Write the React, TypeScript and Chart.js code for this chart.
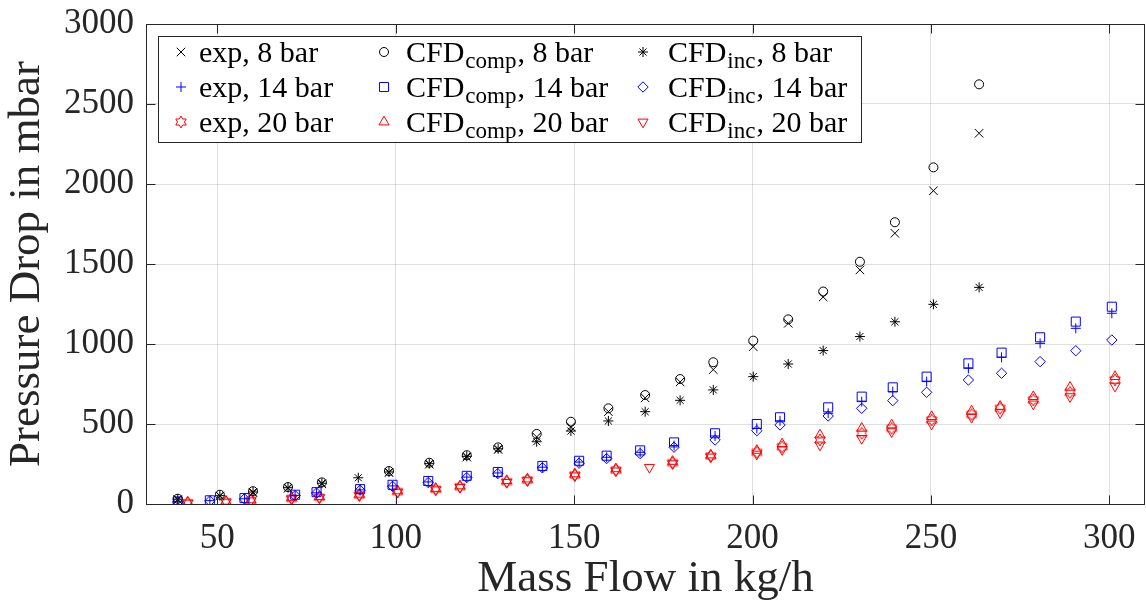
import React, { useEffect, useRef } from 'react';
import { Chart, registerables, ScatterController } from 'chart.js';
import { drawPoint } from 'chart.js/helpers';

Chart.register(...registerables);
// markers may overflow the plot edge as in the original; do not reserve extra layout space for them
(ScatterController.prototype as any).getMaxOverflow = function () {
  return 0;
};

// ---- axes ----
const xTicks = [50, 100, 150, 200, 250, 300];
const yTicks = [0, 500, 1000, 1500, 2000, 2500, 3000];
const xLimits = [30, 310];
const yLimits = [0, 3000];

// ---- 8 bar ----
const flow8 = [38.9, 50.7, 60.0, 69.8, 79.3, 98.1, 109.4, 119.9, 128.7, 139.5, 149.1, 159.6, 169.9, 179.7, 189.0, 200.2, 210.0, 219.8, 230.1, 239.9, 250.7, 263.5];
const exp8 = [27, 50, 70, 98, 126, 196, 248, 293, 340, 419, 483, 577, 663, 763, 840, 983, 1129, 1294, 1463, 1692, 1958, 2317];
const comp8 = [33, 58, 80, 106, 135, 206, 258, 305, 354, 438, 514, 598, 681, 781, 886, 1021, 1154, 1328, 1514, 1761, 2104, 2623];
const flowInc8 = [38.9, 50.7, 60.0, 69.8, 79.3, 89.5, 98.1, 109.4, 119.9, 128.7, 139.5, 149.1, 159.6, 169.9, 179.7, 189.0, 200.2, 210.0, 219.8, 230.1, 239.9, 250.7, 263.5];
const inc8 = [30, 52, 75, 102, 130, 164, 200, 252, 298, 345, 389, 456, 519, 577, 648, 713, 796, 875, 959, 1047, 1139, 1248, 1354];

// ---- 14 bar ----
const flow14 = [38.9, 47.9, 57.6, 71.8, 77.8, 90.0, 99.1, 109.1, 119.9, 128.6, 141.1, 151.4, 159.1, 168.5, 178.0, 189.5, 201.2, 207.7, 221.2, 230.6, 239.3, 248.8, 260.5, 269.8, 280.6, 290.6, 300.7];
const exp14 = [14, 21, 33, 54, 70, 88, 113, 138, 168, 194, 230, 262, 292, 323, 365, 425, 473, 520, 567, 640, 702, 765, 848, 917, 1004, 1098, 1192];
const comp14 = [16, 23, 37, 58, 74, 93, 120, 144, 176, 200, 238, 270, 302, 335, 385, 442, 500, 542, 604, 671, 729, 796, 879, 946, 1042, 1140, 1233];
const inc14 = [12, 19, 32, 52, 68, 86, 110, 134, 165, 190, 226, 255, 284, 315, 355, 400, 458, 494, 550, 598, 646, 698, 775, 817, 890, 958, 1025];

// ---- 20 bar ----
const flow20 = [41.7, 52.4, 59.4, 70.8, 78.6, 89.8, 100.5, 111.2, 118.0, 131.1, 136.9, 150.2, 161.7, 177.6, 188.3, 201.2, 208.3, 218.9, 230.6, 239.0, 250.2, 261.4, 269.4, 278.7, 289.0, 301.6];
const exp20 = [8, 14, 22, 35, 42, 56, 77, 92, 108, 140, 150, 181, 212, 258, 300, 323, 358, 400, 442, 473, 525, 560, 598, 650, 698, 775];
const comp20 = [11, 17, 26, 39, 46, 61, 82, 97, 113, 146, 156, 188, 220, 266, 306, 335, 375, 431, 473, 494, 546, 581, 610, 671, 729, 796];
const flowInc20 = [41.7, 52.4, 59.4, 70.8, 78.6, 89.8, 100.5, 111.2, 118.0, 131.1, 136.9, 150.2, 161.7, 171.1, 177.6, 188.3, 201.2, 208.3, 218.9, 230.6, 239.0, 250.2, 261.4, 269.4, 278.7, 289.0, 301.6];
const inc20 = [6, 12, 20, 32, 39, 52, 74, 89, 104, 135, 146, 176, 207, 229, 252, 294, 312, 340, 369, 410, 452, 500, 542, 571, 625, 671, 737];

const FONT = '"Liberation Serif", "Times New Roman", serif';
const AXIS = '#262626';
const GRID = 'rgba(38,38,38,0.15)';
const BLACK = '#000000';
const BLUE = '#0000ff';
const RED = '#ff0000';

function hexagram(color: string, r: number): HTMLCanvasElement {
  const size = Math.ceil(r * 2 + 4);
  const c = document.createElement('canvas');
  c.width = size;
  c.height = size;
  const g = c.getContext('2d')!;
  g.strokeStyle = color;
  g.lineWidth = 1;
  const cx = size / 2;
  const cy = size / 2;
  const ri = r / Math.sqrt(3);
  g.beginPath();
  for (let k = 0; k < 12; k++) {
    const a = -Math.PI / 2 + (k * Math.PI) / 6;
    const rr = k % 2 === 0 ? r : ri;
    const px = cx + rr * Math.cos(a);
    const py = cy + rr * Math.sin(a);
    if (k === 0) g.moveTo(px, py);
    else g.lineTo(px, py);
  }
  g.closePath();
  g.stroke();
  return c;
}

type Entry = { main: string; sub?: string; tail: string };

export default function App() {
  const ref = useRef<HTMLCanvasElement>(null);

  useEffect(() => {
    document.body.style.margin = '0';
    const hexRed = hexagram(RED, 6);

    const series = [
      { name: { main: 'exp, 8 bar', tail: '' }, xs: flow8, ys: exp8, color: BLACK, style: 'crossRot', r: 6, rot: 0 },
      { name: { main: 'exp, 14 bar', tail: '' }, xs: flow14, ys: exp14, color: BLUE, style: 'cross', r: 5, rot: 0 },
      { name: { main: 'exp, 20 bar', tail: '' }, xs: flow20, ys: exp20, color: RED, style: hexRed as any, r: 6, rot: 0 },
      { name: { main: 'CFD', sub: 'comp', tail: ', 8 bar' }, xs: flow8, ys: comp8, color: BLACK, style: 'circle', r: 4.5, rot: 0 },
      { name: { main: 'CFD', sub: 'comp', tail: ', 14 bar' }, xs: flow14, ys: comp14, color: BLUE, style: 'rect', r: 6.4, rot: 0 },
      { name: { main: 'CFD', sub: 'comp', tail: ', 20 bar' }, xs: flow20, ys: comp20, color: RED, style: 'triangle', r: 5.8, rot: 0 },
      { name: { main: 'CFD', sub: 'inc', tail: ', 8 bar' }, xs: flowInc8, ys: inc8, color: BLACK, style: 'star', r: 5, rot: 0 },
      { name: { main: 'CFD', sub: 'inc', tail: ', 14 bar' }, xs: flow14, ys: inc14, color: BLUE, style: 'rectRot', r: 5.2, rot: 0 },
      { name: { main: 'CFD', sub: 'inc', tail: ', 20 bar' }, xs: flowInc20, ys: inc20, color: RED, style: 'triangle', r: 5.8, rot: 180 },
    ];

    const datasets = series.map((s) => ({
      label: s.name.main + (s.name.sub || '') + s.name.tail,
      data: s.xs.map((x, i) => ({ x, y: s.ys[i] })),
      pointStyle: s.style,
      pointRadius: s.r,
      pointRotation: s.rot,
      pointBorderWidth: 1,
      borderColor: s.color,
      backgroundColor: 'rgba(0,0,0,0)',
      showLine: false,
    }));

    const legendCols = [
      { mx: 181, tx: 199 },
      { mx: 384, tx: 406 },
      { mx: 643, tx: 668 },
    ];
    const legendRows = [52, 87, 122];

    const framePlugin = {
      id: 'frame',
      afterDraw(chart: any) {
        const { ctx, chartArea: a, scales } = chart;
        ctx.save();
        // axes box
        ctx.strokeStyle = AXIS;
        ctx.lineWidth = 1;
        const L = Math.round(a.left) + 0.5;
        const T = Math.round(a.top) + 0.5;
        const R = Math.round(a.right) - 0.5;
        const B = Math.round(a.bottom) + 0.5;
        ctx.strokeRect(L, T, R - L, B - T);
        // inner ticks
        const tl = 9;
        ctx.beginPath();
        xTicks.forEach((v) => {
          const px = Math.round(scales.x.getPixelForValue(v)) + 0.5;
          ctx.moveTo(px, B);
          ctx.lineTo(px, B - tl);
          ctx.moveTo(px, T);
          ctx.lineTo(px, T + tl);
        });
        yTicks.forEach((v) => {
          const py = Math.round(scales.y.getPixelForValue(v)) + 0.5;
          ctx.moveTo(L, py);
          ctx.lineTo(L + tl, py);
          ctx.moveTo(R, py);
          ctx.lineTo(R - tl, py);
        });
        ctx.stroke();

        // legend
        ctx.fillStyle = '#ffffff';
        ctx.fillRect(158, 36, 704, 106);
        ctx.strokeStyle = AXIS;
        ctx.strokeRect(158.5, 36.5, 703, 106);
        series.forEach((s, i) => {
          const col = legendCols[Math.floor(i / 3)];
          const ry = legendRows[i % 3];
          ctx.strokeStyle = s.color;
          ctx.fillStyle = 'rgba(0,0,0,0)';
          ctx.lineWidth = 1;
          drawPoint(ctx, { pointStyle: s.style, rotation: s.rot, radius: s.r, borderWidth: 1 } as any, col.mx, ry);
          ctx.fillStyle = '#000000';
          ctx.textBaseline = 'alphabetic';
          ctx.textAlign = 'left';
          const base = ry + 10;
          const e: Entry = s.name;
          let x = col.tx;
          ctx.font = `30px ${FONT}`;
          ctx.fillText(e.main, x, base);
          x += ctx.measureText(e.main).width;
          if (e.sub) {
            ctx.font = `23px ${FONT}`;
            ctx.fillText(e.sub, x + 1, base + 6);
            x += ctx.measureText(e.sub).width + 2;
            ctx.font = `30px ${FONT}`;
            ctx.fillText(e.tail, x, base);
          }
        });
        ctx.restore();
      },
    };

    const chart = new Chart(ref.current!, {
      type: 'scatter',
      data: { datasets },
      options: {
        animation: false,
        responsive: false,
        maintainAspectRatio: false,
        events: [],
        layout: { padding: { top: 24, right: 1, left: 0, bottom: 0 } },
        plugins: { legend: { display: false }, tooltip: { enabled: false } },
        scales: {
          x: {
            type: 'linear',
            min: xLimits[0],
            max: xLimits[1],
            afterBuildTicks: (s: any) => {
              s.ticks = xTicks.map((v) => ({ value: v }));
            },
            afterFit: (s: any) => {
              s.height = 99;
              s.paddingLeft = 0;
              s.paddingRight = 0;
            },
            grid: { color: GRID, drawTicks: false, lineWidth: 1 },
            border: { display: false },
            ticks: { font: { family: FONT, size: 35 }, color: AXIS, padding: 14, maxRotation: 0, autoSkip: false, callback: (v: any) => String(v) },
            title: { display: true, text: 'Mass Flow in kg/h', color: AXIS, font: { family: FONT, size: 45, lineHeight: 1 }, padding: { top: 0, bottom: 1 } },
          },
          y: {
            type: 'linear',
            min: yLimits[0],
            max: yLimits[1],
            afterBuildTicks: (s: any) => {
              s.ticks = yTicks.map((v) => ({ value: v }));
            },
            afterFit: (s: any) => {
              s.width = 146;
              s.paddingTop = 0;
              s.paddingBottom = 0;
            },
            grid: { color: GRID, drawTicks: false, lineWidth: 1 },
            border: { display: false },
            ticks: { font: { family: FONT, size: 35 }, color: AXIS, padding: 12, autoSkip: false, callback: (v: any) => String(v) },
            title: { display: true, text: 'Pressure Drop in mbar', color: AXIS, font: { family: FONT, size: 45, lineHeight: 1 }, padding: { top: 5, bottom: 0 } },
          },
        },
      } as any,
      plugins: [framePlugin],
    });
    return () => chart.destroy();
  }, []);

  return (
    <div style={{ width: 1146, height: 603 }}>
      <canvas ref={ref} width={1146} height={603} style={{ display: 'block' }} />
    </div>
  );
}
